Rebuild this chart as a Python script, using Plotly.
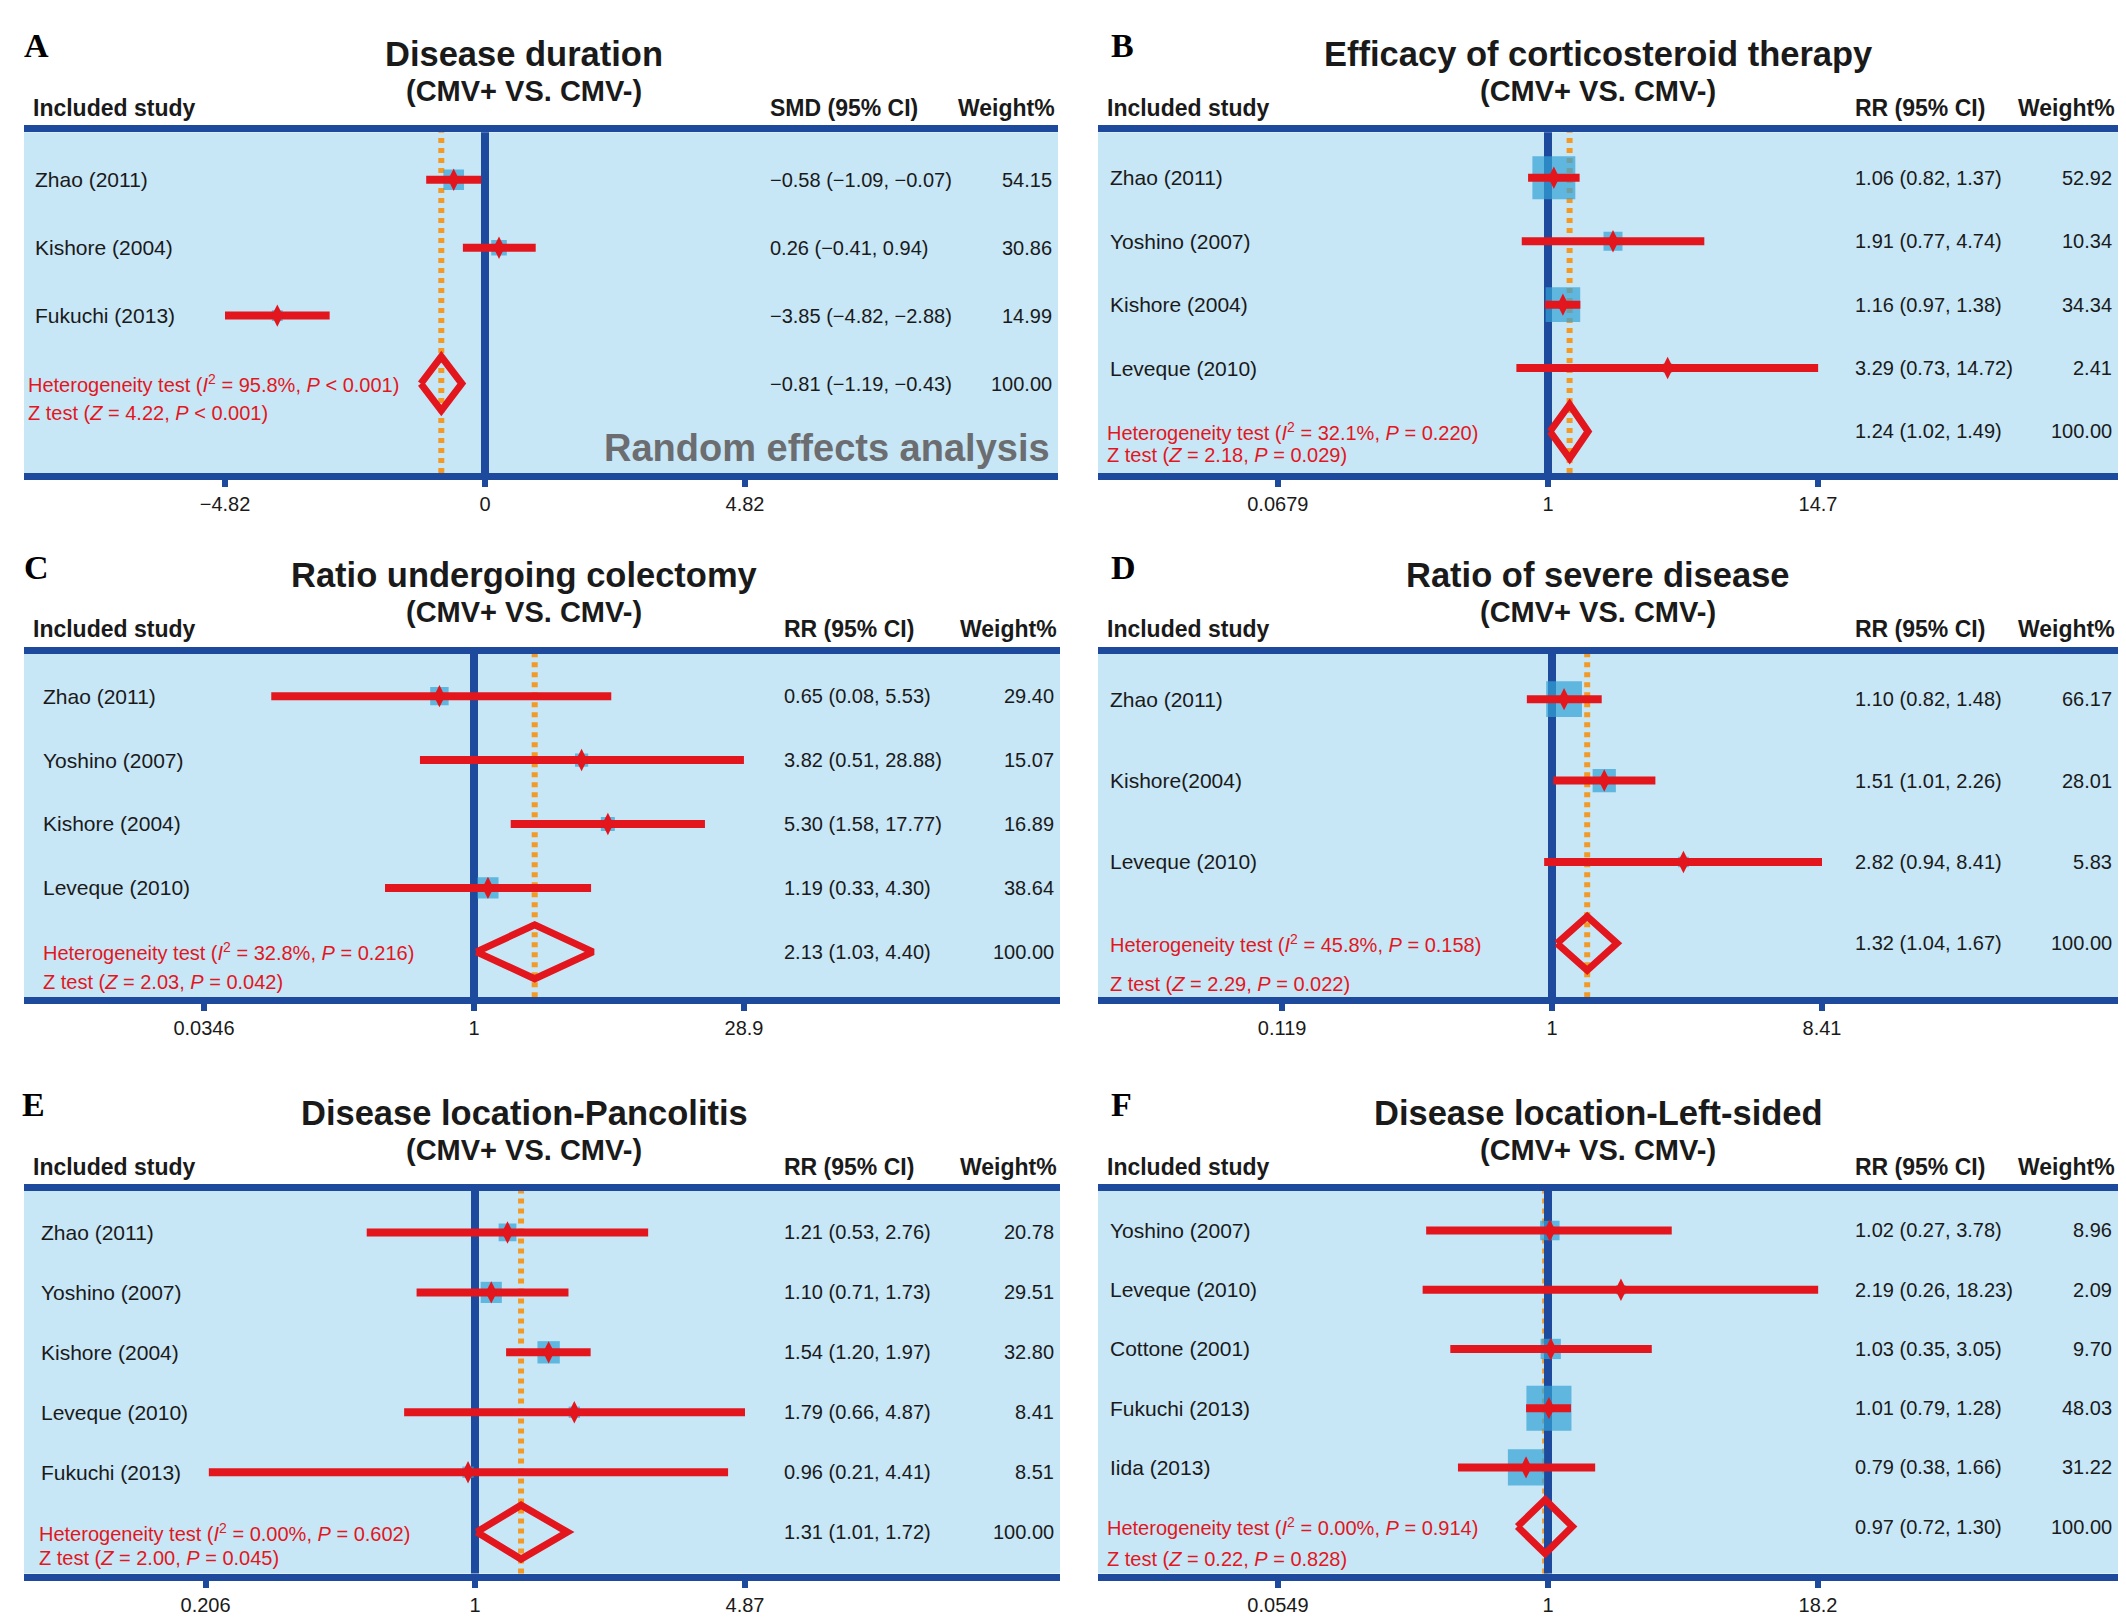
import numpy as np
import plotly.graph_objects as go

# ---- data ----
a_studies = ["Zhao (2011)", "Kishore (2004)", "Fukuchi (2013)"]
a_est = [-0.58, 0.26, -3.85]
a_lo = [-1.09, -0.41, -4.82]
a_hi = [-0.07, 0.94, -2.88]
a_wt = [54.15, 30.86, 14.99]
a_pool = [-0.81, -1.19, -0.43]
a_stats = ["95.8%", "&lt; 0.001", "4.22", "&lt; 0.001"]
a_ticks = [-4.82, 0, 4.82]

b_studies = ["Zhao (2011)", "Yoshino (2007)", "Kishore (2004)", "Leveque (2010)"]
b_est = [1.06, 1.91, 1.16, 3.29]
b_lo = [0.82, 0.77, 0.97, 0.73]
b_hi = [1.37, 4.74, 1.38, 14.72]
b_wt = [52.92, 10.34, 34.34, 2.41]
b_pool = [1.24, 1.02, 1.49]
b_stats = ["32.1%", "= 0.220", "2.18", "= 0.029"]
b_ticks = [0.0679, 1, 14.7]

c_studies = ["Zhao (2011)", "Yoshino (2007)", "Kishore (2004)", "Leveque (2010)"]
c_est = [0.65, 3.82, 5.30, 1.19]
c_lo = [0.08, 0.51, 1.58, 0.33]
c_hi = [5.53, 28.88, 17.77, 4.30]
c_wt = [29.40, 15.07, 16.89, 38.64]
c_pool = [2.13, 1.03, 4.40]
c_stats = ["32.8%", "= 0.216", "2.03", "= 0.042"]
c_ticks = [0.0346, 1, 28.9]

d_studies = ["Zhao (2011)", "Kishore(2004)", "Leveque (2010)"]
d_est = [1.10, 1.51, 2.82]
d_lo = [0.82, 1.01, 0.94]
d_hi = [1.48, 2.26, 8.41]
d_wt = [66.17, 28.01, 5.83]
d_pool = [1.32, 1.04, 1.67]
d_stats = ["45.8%", "= 0.158", "2.29", "= 0.022"]
d_ticks = [0.119, 1, 8.41]

e_studies = ["Zhao (2011)", "Yoshino (2007)", "Kishore (2004)", "Leveque (2010)", "Fukuchi (2013)"]
e_est = [1.21, 1.10, 1.54, 1.79, 0.96]
e_lo = [0.53, 0.71, 1.20, 0.66, 0.21]
e_hi = [2.76, 1.73, 1.97, 4.87, 4.41]
e_wt = [20.78, 29.51, 32.80, 8.41, 8.51]
e_pool = [1.31, 1.01, 1.72]
e_stats = ["0.00%", "= 0.602", "2.00", "= 0.045"]
e_ticks = [0.206, 1, 4.87]

f_studies = ["Yoshino (2007)", "Leveque (2010)", "Cottone (2001)", "Fukuchi (2013)", "Iida (2013)"]
f_est = [1.02, 2.19, 1.03, 1.01, 0.79]
f_lo = [0.27, 0.26, 0.35, 0.79, 0.38]
f_hi = [3.78, 18.23, 3.05, 1.28, 1.66]
f_wt = [8.96, 2.09, 9.70, 48.03, 31.22]
f_pool = [0.97, 0.72, 1.30]
f_stats = ["0.00%", "= 0.914", "0.22", "= 0.828"]
f_ticks = [0.0549, 1, 18.2]

panels = [
    dict(letter="A", title="Disease duration", measure="SMD", log=False,
         studies=a_studies, est=a_est, lo=a_lo, hi=a_hi, wt=a_wt, pool=a_pool, stats=a_stats, ticks=a_ticks),
    dict(letter="B", title="Efficacy of corticosteroid therapy", measure="RR", log=True,
         studies=b_studies, est=b_est, lo=b_lo, hi=b_hi, wt=b_wt, pool=b_pool, stats=b_stats, ticks=b_ticks),
    dict(letter="C", title="Ratio undergoing colectomy", measure="RR", log=True,
         studies=c_studies, est=c_est, lo=c_lo, hi=c_hi, wt=c_wt, pool=c_pool, stats=c_stats, ticks=c_ticks),
    dict(letter="D", title="Ratio of severe disease", measure="RR", log=True,
         studies=d_studies, est=d_est, lo=d_lo, hi=d_hi, wt=d_wt, pool=d_pool, stats=d_stats, ticks=d_ticks),
    dict(letter="E", title="Disease location-Pancolitis", measure="RR", log=True,
         studies=e_studies, est=e_est, lo=e_lo, hi=e_hi, wt=e_wt, pool=e_pool, stats=e_stats, ticks=e_ticks),
    dict(letter="F", title="Disease location-Left-sided", measure="RR", log=True,
         studies=f_studies, est=f_est, lo=f_lo, hi=f_hi, wt=f_wt, pool=f_pool, stats=f_stats, ticks=f_ticks),
]

# ---- geometry in page pixels ----
# the html body keeps its default 8px margin, so the figure is drawn 8px in
OFF = 8
W, H = 2126 - 2 * OFF, 1624 - 2 * OFF


def X(p):
    return (p - OFF) / W


def Y(p):
    return 1 - (p - OFF) / H


# left, right, top line, bottom line, first row, row step, null offset, tick offset,
# square scale, name offset, ci offset, het offset, z-line offset, letter x
geo = [
    (24, 1058, 129, 477, 180, 68.0, 461, 260, 2.8, 9, 744, 2, 29, 22),
    (1098, 2118, 129, 477, 178, 63.5, 450, 270, 5.9, 10, 755, 7, 24, 1109),
    (24, 1060, 651, 1002, 697, 64.0, 450, 270, 3.4, 17, 758, 17, 30, 22),
    (1098, 2118, 651, 1002, 700, 81.5, 454, 270, 4.4, 10, 755, 10, 41, 1109),
    (24, 1060, 1189, 1579, 1234, 60.0, 451, 270, 3.9, 15, 758, 13, 26, 20),
    (1098, 2118, 1189, 1579, 1232, 59.3, 450, 270, 6.5, 10, 755, 7, 32, 1109),
]

DARK = "#1d4a9c"
BG = "#c7e6f6"
SQ = "#33a2d7"
RED = "#e3161d"
ORANGE = "#f39a26"
TXT = "#1a1a1a"
FONT = "Liberation Sans"
LW = 7


def fmt(v):
    return f"{v:.2f}".replace("-", "\u2212")


def ci_text(e, l, h):
    return f"{fmt(e)} ({fmt(l)}, {fmt(h)})"


def note(**kw):
    kw.setdefault("showarrow", False)
    kw.setdefault("xanchor", "center")
    kw.setdefault("yanchor", "middle")
    return kw


fig = go.Figure()
ann = []
shapes = []

for i, (p, g) in enumerate(zip(panels, geo)):
    left, right, top, bot, row0, sp, cen, tick_px, ksq, name_off, ci_off, het_off, z_off, let_x = g
    k = i + 1
    xa = "x" if k == 1 else f"x{k}"
    ya = "y" if k == 1 else f"y{k}"
    d_top, d_bot = top + LW / 2, bot - LW / 2
    width = right - left
    if p["log"]:
        ppd = tick_px / np.log10(p["ticks"][2])
        null = 1
    else:
        ppd = tick_px / p["ticks"][2]
        null = 0
    xr = [-cen / ppd, (width - cen) / ppd]
    n = len(p["studies"])
    rows = list(range(n))

    fig.update_layout(**{
        ("xaxis" if k == 1 else f"xaxis{k}"): dict(
            domain=[X(left), X(right)], range=xr, type="log" if p["log"] else "linear",
            anchor=ya, showline=True, mirror=True, linewidth=LW, linecolor=DARK,
            ticks="outside", ticklen=7, tickwidth=6, tickcolor=DARK,
            tickvals=p["ticks"], ticktext=[f"{t:g}".replace("-", "\u2212") for t in p["ticks"]],
            tickfont=dict(family=FONT, size=20, color=TXT),
            showgrid=False, zeroline=False, fixedrange=True),
        ("yaxis" if k == 1 else f"yaxis{k}"): dict(
            domain=[Y(d_bot), Y(d_top)],
            range=[(d_bot - row0) / sp, (d_top - row0) / sp],
            anchor=xa, visible=False, showgrid=False, zeroline=False, fixedrange=True),
    })

    # pooled estimate (orange dotted) and null line
    shapes.append(dict(type="line", xref=xa, yref=f"{ya} domain", x0=p["pool"][0], x1=p["pool"][0],
                       y0=0, y1=1, layer="below", line=dict(color=ORANGE, width=6, dash="5px,5px")))
    shapes.append(dict(type="line", xref=xa, yref=f"{ya} domain", x0=null, x1=null,
                       y0=0, y1=1, layer="below", line=dict(color=DARK, width=8)))

    # weight squares
    fig.add_trace(go.Scatter(
        x=p["est"], y=rows, xaxis=xa, yaxis=ya, mode="markers",
        marker=dict(symbol="square", size=[max(9, ksq * np.sqrt(w)) for w in p["wt"]],
                    color=SQ, line=dict(width=0)),
        hoverinfo="skip", showlegend=False))
    # confidence intervals
    cx, cy = [], []
    for r, l, h in zip(rows, p["lo"], p["hi"]):
        cx += [l, h, None]
        cy += [r, r, None]
    fig.add_trace(go.Scatter(x=cx, y=cy, xaxis=xa, yaxis=ya, mode="lines",
                             line=dict(color=RED, width=8), hoverinfo="skip", showlegend=False))
    # point estimates
    fig.add_trace(go.Scatter(
        x=p["est"], y=rows, xaxis=xa, yaxis=ya, mode="markers",
        marker=dict(symbol="diamond-tall", size=16, color=RED, line=dict(width=0)),
        hoverinfo="skip", showlegend=False))
    # summary diamond
    pe, pl, ph = p["pool"]
    hh = 27 / sp
    fig.add_trace(go.Scatter(
        x=[pl, pe, ph, pe, pl], y=[n, n - hh, n, n + hh, n], xaxis=xa, yaxis=ya, mode="lines",
        line=dict(color=RED, width=7), hoverinfo="skip", showlegend=False))

    # text columns
    for r, s, e, l, h, w in zip(rows, p["studies"], p["est"], p["lo"], p["hi"], p["wt"]):
        ann.append(note(x=X(left + name_off), y=r, xref="paper", yref=ya, text=s,
                        xanchor="left", font=dict(size=21, color=TXT)))
        ann.append(note(x=X(left + ci_off), y=r, xref="paper", yref=ya, text=ci_text(e, l, h),
                        xanchor="left", font=dict(size=20, color=TXT)))
        ann.append(note(x=X(right - 4), y=r, xref="paper", yref=ya, text=f"{w:.2f}",
                        xanchor="right", font=dict(size=20, color=TXT)))
    i2, phet, zv, pz = p["stats"]
    ann.append(note(x=X(left + het_off), y=n, xref="paper", yref=ya,
                    text=f"Heterogeneity test (<i>I</i><sup>2</sup> = {i2}, <i>P</i> {phet})",
                    xanchor="left", font=dict(size=20, color=RED)))
    ann.append(note(x=X(left + het_off), y=n, xref="paper", yref=ya, yshift=-z_off,
                    text=f"Z test (<i>Z</i> = {zv}, <i>P</i> {pz})",
                    xanchor="left", font=dict(size=20, color=RED)))
    ann.append(note(x=X(left + ci_off), y=n, xref="paper", yref=ya, text=ci_text(pe, pl, ph),
                    xanchor="left", font=dict(size=20, color=TXT)))
    ann.append(note(x=X(right - 4), y=n, xref="paper", yref=ya, text="100.00",
                    xanchor="right", font=dict(size=20, color=TXT)))

    # headers and titles
    hy = Y(top - 21)
    ann.append(note(x=X(left + 7), y=hy, xref="paper", yref="paper", text="<b>Included study</b>",
                    xanchor="left", font=dict(size=23, color=TXT)))
    ann.append(note(x=X(left + ci_off), y=hy, xref="paper", yref="paper",
                    text=f"<b>{p['measure']} (95% CI)</b>", xanchor="left", font=dict(size=23, color=TXT)))
    ann.append(note(x=X(right - 1), y=hy, xref="paper", yref="paper", text="<b>Weight%</b>",
                    xanchor="right", font=dict(size=23, color=TXT)))
    ann.append(note(x=X(left + 500), y=Y(top - 75), xref="paper", yref="paper",
                    text=f"<b>{p['title']}</b>", font=dict(size=34.5, color=TXT)))
    ann.append(note(x=X(left + 500), y=Y(top - 38), xref="paper", yref="paper",
                    text="<b>(CMV+ VS. CMV-)</b>", font=dict(size=29, color=TXT)))
    ann.append(note(x=X(let_x), y=Y(top - 83), xref="paper", yref="paper",
                    text=f"<b>{p['letter']}</b>", xanchor="left",
                    font=dict(family="Liberation Serif", size=34, color="#000000")))

ann.append(note(x=X(1052), y=Y(449), xref="paper", yref="paper", text="<b>Random effects analysis</b>",
                xanchor="right", font=dict(size=38, color="#6b6d70")))

fig.update_layout(
    width=W, height=H, autosize=False,
    margin=dict(l=0, r=0, t=0, b=0),
    paper_bgcolor="white", plot_bgcolor=BG,
    font=dict(family=FONT, color=TXT),
    annotations=ann, shapes=shapes,
    showlegend=False,
)

fig.write_html("out.html")
